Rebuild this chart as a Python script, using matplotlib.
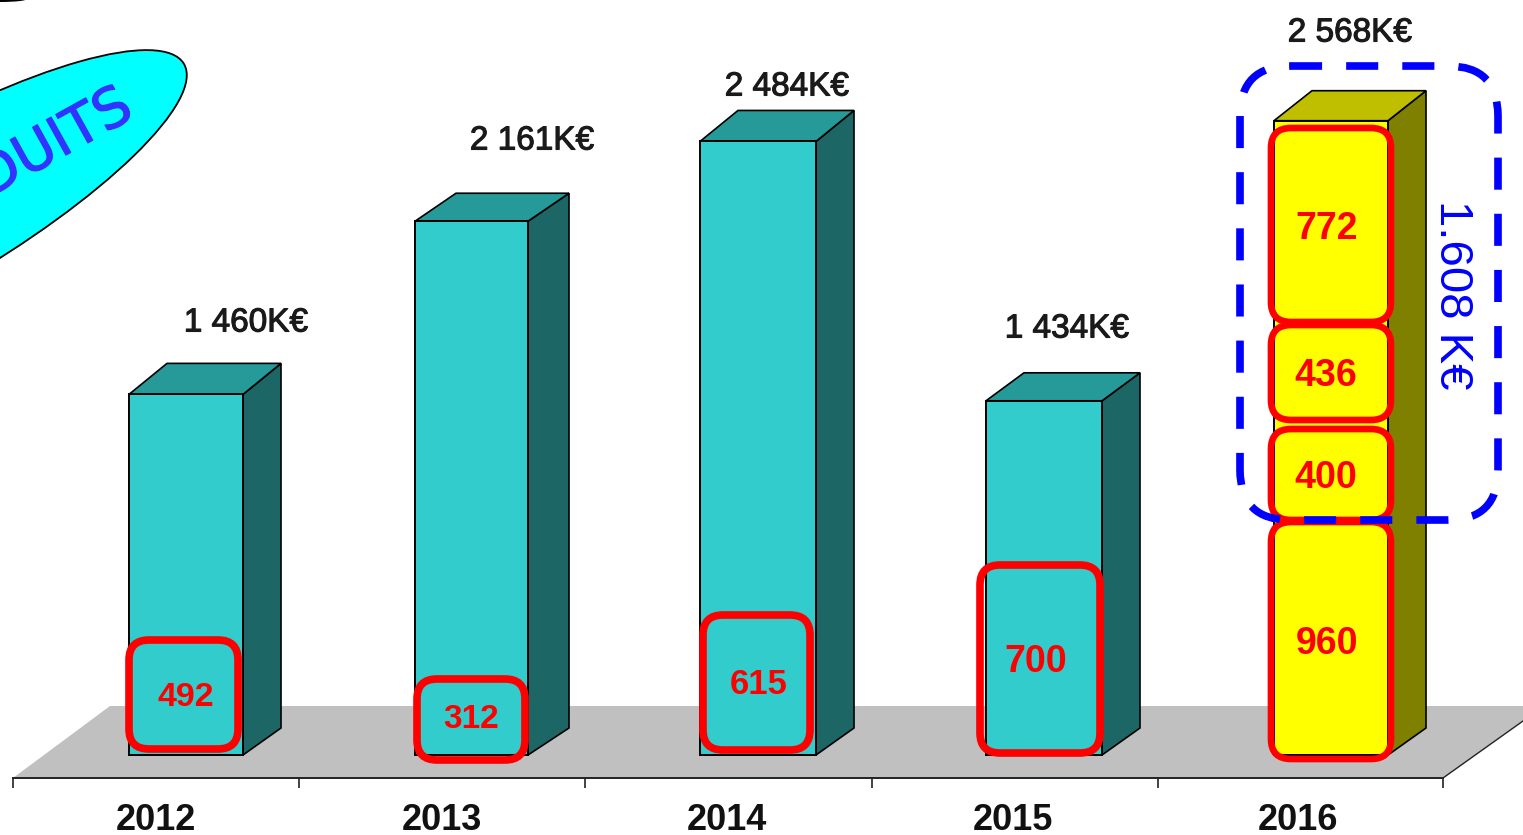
import matplotlib

matplotlib.use("Agg")
import matplotlib.patheffects as pe
import matplotlib.pyplot as plt
from matplotlib.patches import Ellipse, FancyBboxPatch, Polygon
from matplotlib.transforms import Affine2D

OUT = "out.png"

# data
YEARS = ["2012", "2013", "2014", "2015", "2016"]
TOTALS = [1460, 2161, 2484, 1434, 2568]
TOTAL_LABELS = ["1 460K€", "2 161K€", "2 484K€", "1 434K€", "2 568K€"]
PRODUITS = [492, 312, 615, 700]
STACK_2016 = [960, 400, 436, 772]
GROUP_LABEL = "1.608 K€"

# layout, in pixels of the 1523x835 picture
W, H = 1523, 835
BASE_Y = 755
PX_PER_UNIT = 0.247
BAR_LEFT = [129, 415, 700, 986, 1274]
BAR_RIGHT = [243, 528, 816, 1102, 1388]
DEPTH_X = [38, 41, 38, 38, 38]
DEPTH_TOP = [31, 28, 31, 28, 30]
DEPTH_BOTTOM = 27
LABEL_XY = [(246, 323), (532, 141), (787, 87), (1067, 329), (1350, 33)]
TICKS = [13, 299, 585, 872, 1158, 1443]
YEAR_X = [156, 442, 727, 1013, 1298]
BOX_2012_15 = [(129, 640, 238, 749), (417, 679, 525, 760), (703, 615, 810, 750), (980, 565, 1100, 753)]
VALUE_XY = [(186, 698), (471, 720), (759, 685), (1036, 662)]
VALUE_SIZE = [24.5, 24, 25, 27]
BOX_2016 = [(1271, 522, 1391, 759), (1271, 429, 1391, 520), (1271, 325, 1391, 420), (1271, 128, 1391, 322)]
VALUE_2016_XY = [(1327, 644), (1326, 478), (1326, 376), (1327, 229)]

TEAL = ("#33CCCC", "#1C6666", "#269999")
OLIVE = ("#FFFF00", "#808000", "#BFBF00")
BLUE = "#0000FF"
RED = "#FF0000"

plt.rcParams["font.family"] = ["Liberation Sans", "DejaVu Sans"]

fig = plt.figure(figsize=(W / 100, H / 100), dpi=100, facecolor="white")
ax = fig.add_axes([0, 0, 1, 1])
ax.set_xlim(0, W)
ax.set_ylim((BASE_Y - H) / PX_PER_UNIT, BASE_Y / PX_PER_UNIT)
px = Affine2D().scale(1, -1).translate(0, H)  # picture pixels, y going down

for side in ["top", "left", "right"]:
    ax.spines[side].set_visible(False)
ax.set_yticks([])
ax.patch.set_visible(False)

# floor
ax.add_patch(Polygon([(13, 778), (110, 706), (W, 706), (W, 721), (1443, 778)], transform=px,
                     facecolor="#C0C0C0", edgecolor="none", zorder=1))
ax.plot([1443, W], [778, 721], color="#222222", lw=1, transform=px, zorder=1)

# axis: line and ticks at the category borders, years as minor labels
ax.spines["bottom"].set_position(("data", (BASE_Y - 778) / PX_PER_UNIT))
ax.spines["bottom"].set_bounds(TICKS[0], TICKS[-1])
ax.spines["bottom"].set_linewidth(1.4)
ax.spines["bottom"].set_color("#222222")
ax.set_xticks(TICKS)
ax.set_xticklabels([])
ax.tick_params(axis="x", which="major", length=7, width=1.2, color="#222222", direction="out")
ax.set_xticks(YEAR_X, minor=True)
ax.set_xticklabels(YEARS, minor=True, fontsize=26, fontweight="bold", color="#111111")
ax.tick_params(axis="x", which="minor", length=0, pad=18)

# bars
for i, total in enumerate(TOTALS):
    left, right = BAR_LEFT[i], BAR_RIGHT[i]
    front, dark, mid = OLIVE if i == 4 else TEAL
    dx = DEPTH_X[i]
    dy = DEPTH_TOP[i] / PX_PER_UNIT
    dy0 = DEPTH_BOTTOM / PX_PER_UNIT
    ax.add_patch(Polygon([(right, 0), (right + dx, dy0), (right + dx, total + dy), (right, total)],
                         facecolor=dark, edgecolor="black", lw=1.2, zorder=3))
    ax.add_patch(Polygon([(left, total), (left + dx, total + dy), (right + dx, total + dy), (right, total)],
                         facecolor=mid, edgecolor="black", lw=1.2, zorder=3))
    if i < 4:
        ax.bar(left, total, width=right - left, align="edge", color=front, edgecolor="black", lw=1.4, zorder=4)
    else:
        bottom = 0
        for v in STACK_2016:
            ax.bar(left, v, width=right - left, bottom=bottom, align="edge", color=front, edgecolor="none", zorder=4)
            bottom += v
        ax.bar(left, total, width=right - left, align="edge", color="none", edgecolor="black", lw=1.4, zorder=4)
    x, y = LABEL_XY[i]
    fig.text(x / W, 1 - y / H, TOTAL_LABELS[i], ha="center", va="center", fontsize=24, color="#1a1a1a",
             path_effects=[pe.withStroke(linewidth=0.8, foreground="#1a1a1a")])


def red_box(x0, y0, x1, y1, lw, radius=20):
    ax.add_patch(FancyBboxPatch((x0 + radius, y0 + radius), x1 - x0 - 2 * radius, y1 - y0 - 2 * radius,
                                boxstyle=f"round,pad={radius},rounding_size={radius}", transform=px,
                                facecolor="none", edgecolor=RED, lw=lw, zorder=6))


for box, v, (x, y), size in zip(BOX_2012_15, PRODUITS, VALUE_XY, VALUE_SIZE):
    red_box(*box, lw=5.5)
    fig.text(x / W, 1 - y / H, str(v), ha="center", va="center", fontsize=size, fontweight="bold", color=RED)

for box, v, (x, y) in zip(BOX_2016, STACK_2016, VALUE_2016_XY):
    red_box(*box, lw=4.8)
    fig.text(x / W, 1 - y / H, str(v), ha="center", va="center", fontsize=27, fontweight="bold", color=RED)

# dashed group around the upper part of 2016
ax.add_patch(FancyBboxPatch((1290, 116), 158, 354, boxstyle="round,pad=50,rounding_size=50", transform=px,
                            facecolor="none", edgecolor=BLUE, lw=5.5, linestyle=(0, (4.2, 3.15)), zorder=7))
fig.text(1452 / W, 1 - 295 / H, GROUP_LABEL, rotation=-90, ha="center", va="center", fontsize=34, color=BLUE)

# cyan bubble, cut by the left edge
ax.add_patch(Ellipse((-81, 217), 612, 154, angle=-30, transform=px, facecolor="#00FFFF", edgecolor="black", lw=1.3, zorder=2))
fig.text(129 / W, 1 - 103 / H, "PRODUITS", rotation=29, rotation_mode="anchor", ha="right", va="center",
         fontsize=40, color="#3333FF", family="DejaVu Sans",
         path_effects=[pe.withStroke(linewidth=0.8, foreground="#3333FF")])
ax.add_patch(Ellipse((0, -1), 54, 6, transform=px, facecolor="black", edgecolor="none", zorder=2))

fig.savefig(OUT, dpi=100, facecolor="white")
